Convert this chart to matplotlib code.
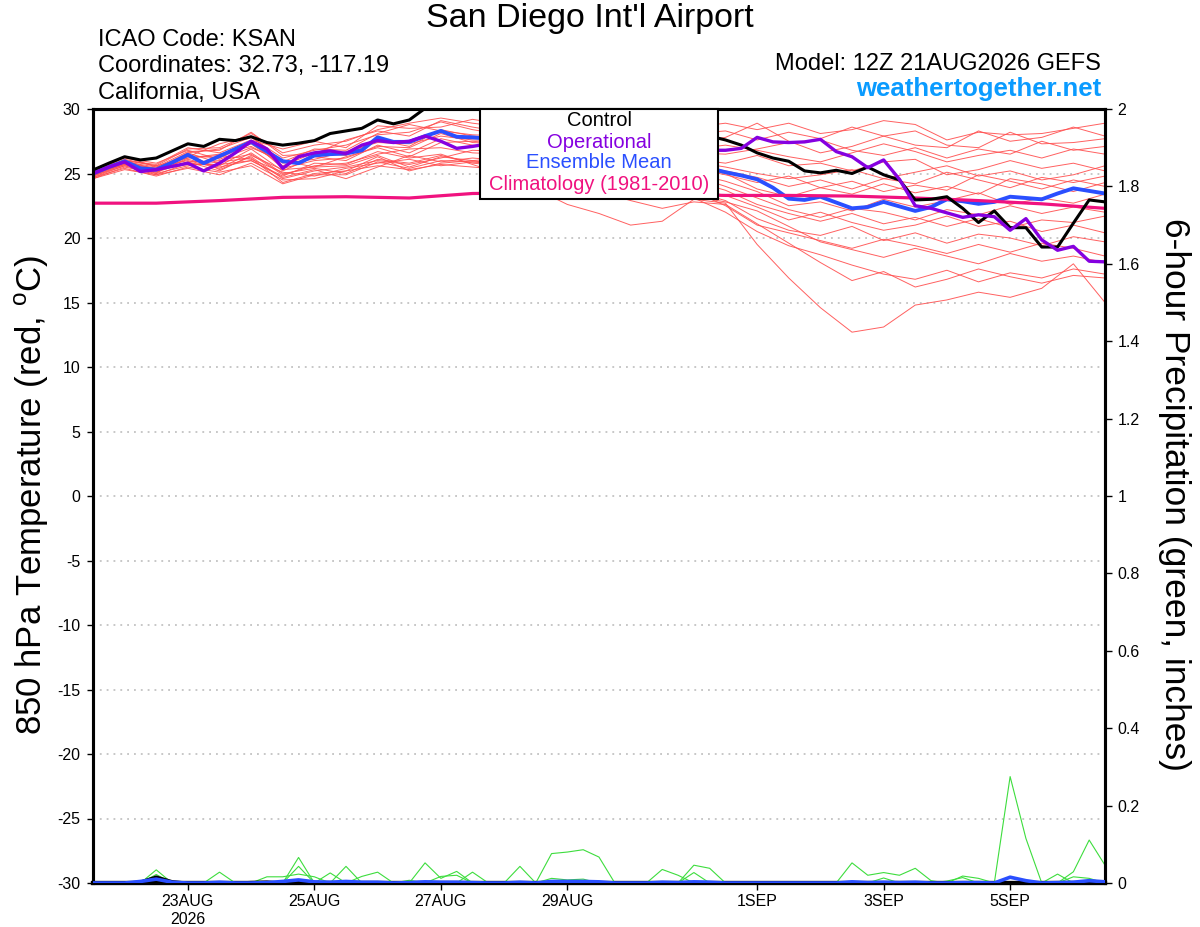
import pandas as pd
import matplotlib
matplotlib.use('Agg')
import matplotlib.pyplot as plt
from matplotlib.patches import Rectangle

plt.rcParams['font.family'] = ['Liberation Sans', 'DejaVu Sans']
plt.rcParams['mathtext.fontset'] = 'custom'
plt.rcParams['mathtext.rm'] = 'Liberation Sans'
plt.rcParams['axes.unicode_minus'] = False

# time axes (run 12Z 21AUG2026)
t6 = pd.date_range('2026-08-21 12:00', periods=65, freq='6h')
t12 = pd.date_range('2026-08-21 12:00', periods=33, freq='12h')
t24 = pd.date_range('2026-08-21 12:00', periods=17, freq='D')

# 850 hPa temperature, 6-hourly
control = [25.27, 25.8, 26.3, 26.05, 26.2, 26.75, 27.3, 27.1,
           27.65, 27.55, 27.85, 27.4, 27.2, 27.35, 27.55, 28.1,
           28.3, 28.5, 29.15, 28.85, 29.15, 30.05, 30.4, 30.7,
           30.5, 30.1, 29.8, 29.6, 29.4, 29.2, 29.0, 28.8,
           28.6, 28.5, 28.4, 28.3, 28.2, 28.1, 28.0, 27.9,
           27.6, 27.2, 26.6, 26.2, 25.95, 25.2, 25.05, 25.25,
           25.0, 25.5, 24.9, 24.5, 22.95, 23.0, 23.2, 22.3,
           21.2, 22.1, 20.8, 20.8, 19.3, 19.3, 21.15, 22.95,
           22.8]
operational = [25.0, 25.5, 25.9, 25.15, 25.3, 25.55, 25.8, 25.2,
               25.8, 26.6, 27.5, 26.9, 25.4, 26.3, 26.6, 26.75,
               26.55, 27.2, 27.55, 27.4, 27.5, 27.9, 27.5, 26.95,
               27.1, 27.3, 27.4, 27.3, 27.2, 27.1, 27.0, 26.9,
               26.9, 26.8, 26.8, 26.8, 26.8, 26.8, 26.8, 26.8,
               26.8, 26.95, 27.8, 27.45, 27.4, 27.45, 27.65, 26.7,
               26.3, 25.45, 26.05, 24.55, 22.5, 22.3, 21.95, 21.6,
               21.8, 21.65, 20.6, 21.5, 19.85, 19.05, 19.35, 18.2,
               18.15]
ens_mean = [25.0, 25.5, 25.95, 25.4, 25.3, 25.85, 26.45, 25.8,
            26.35, 26.9, 27.45, 26.7, 25.95, 25.8, 26.4, 26.5,
            26.55, 26.8, 27.8, 27.45, 27.45, 27.9, 28.3, 27.85,
            27.8, 27.7, 27.6, 27.5, 27.4, 27.2, 27.0, 26.8,
            26.6, 26.4, 26.2, 26.0, 25.8, 25.7, 25.5, 25.4,
            25.1, 24.85, 24.55, 23.9, 23.05, 22.95, 23.2, 22.75,
            22.3, 22.4, 22.8, 22.45, 22.1, 22.4, 23.0, 22.85,
            22.65, 22.8, 23.2, 23.1, 23.0, 23.45, 23.85, 23.65,
            23.45]

# climatology, daily
climatology = [22.7, 22.7, 22.9, 23.15, 23.2, 23.1, 23.45, 23.5, 23.45,
               23.4, 23.3, 23.3, 23.25, 23.1, 22.9, 22.65, 22.3]

# ensemble members, 12-hourly
members = [
    [25.1, 26.1, 25.6, 26.9, 27.0, 28.1, 26.6, 27.2, 27.5, 28.4, 28.9, 29.3, 28.9, 28.6, 28.3, 28.0, 27.8,
     27.9, 28.2, 28.6, 28.9, 28.4, 28.9, 28.1, 28.4, 29.1, 28.8, 27.6, 28.2, 28.0, 28.1, 28.5, 28.9],
    [24.9, 25.8, 25.4, 26.6, 26.9, 27.8, 26.2, 26.8, 27.2, 28.0, 28.2, 29.0, 28.4, 28.0, 27.8, 27.5, 27.4,
     27.6, 27.9, 28.1, 28.3, 27.6, 28.2, 27.7, 28.6, 27.9, 27.2, 27.0, 28.3, 27.5, 27.8, 28.6, 27.9],
    [25.2, 26.0, 25.7, 27.0, 26.6, 27.6, 26.9, 27.5, 27.0, 28.7, 28.5, 28.6, 29.2, 28.8, 28.1, 27.6, 27.2,
     26.9, 27.0, 27.4, 27.8, 28.9, 27.5, 26.6, 27.1, 27.9, 28.3, 27.2, 27.0, 28.2, 27.3, 27.4, 27.7],
    [24.8, 25.9, 25.2, 26.3, 27.3, 27.9, 25.9, 26.9, 26.8, 28.1, 28.8, 28.3, 28.0, 27.9, 27.5, 27.3, 27.1,
     26.9, 26.7, 26.6, 26.5, 26.9, 27.4, 27.6, 26.8, 26.4, 27.0, 26.2, 26.9, 26.5, 27.5, 26.8, 27.1],
    [25.0, 26.3, 25.5, 26.7, 26.8, 28.2, 26.4, 26.5, 27.6, 28.3, 27.9, 29.1, 28.6, 28.2, 27.6, 27.2, 27.0,
     26.8, 26.6, 26.9, 27.2, 26.8, 26.3, 25.9, 26.6, 27.3, 26.7, 25.9, 26.4, 26.8, 26.2, 26.9, 26.5],
    [25.1, 26.0, 25.3, 26.4, 26.2, 27.3, 25.6, 26.6, 26.4, 27.6, 27.1, 28.4, 27.9, 27.7, 27.4, 27.2, 27.0,
     26.7, 26.4, 26.1, 25.8, 26.4, 25.6, 25.8, 25.2, 25.9, 26.1, 24.9, 25.3, 26.0, 25.4, 25.8, 25.2],
    [24.9, 25.7, 25.1, 26.2, 26.5, 27.1, 25.8, 26.1, 26.7, 27.4, 27.3, 27.9, 27.6, 27.5, 27.3, 27.0, 26.8,
     26.5, 26.2, 25.9, 25.5, 25.0, 24.6, 24.9, 25.3, 24.6, 25.1, 25.6, 24.8, 25.2, 24.5, 24.9, 25.6],
    [25.0, 25.9, 25.0, 26.6, 25.8, 27.5, 25.4, 26.0, 26.2, 27.1, 27.0, 28.1, 27.4, 27.3, 27.2, 27.0, 26.7,
     26.3, 25.9, 25.6, 25.2, 24.7, 24.0, 24.5, 23.8, 24.6, 24.2, 25.1, 24.5, 23.9, 24.7, 24.3, 24.8],
    [24.7, 25.6, 24.9, 25.8, 25.6, 26.9, 25.2, 26.3, 26.0, 27.2, 26.6, 27.7, 27.2, 27.0, 26.9, 26.7, 26.4,
     26.0, 25.7, 25.4, 24.9, 24.3, 24.8, 23.9, 24.4, 23.6, 24.1, 23.7, 24.9, 24.4, 23.8, 24.5, 24.0],
    [25.2, 26.2, 25.8, 26.8, 26.1, 27.0, 26.0, 25.5, 26.3, 27.0, 26.3, 27.4, 27.5, 27.3, 27.1, 26.8, 26.5,
     26.2, 25.9, 25.5, 25.0, 23.8, 23.2, 23.9, 23.4, 24.2, 23.5, 24.0, 23.4, 24.6, 24.2, 23.6, 24.3],
    [24.8, 25.7, 25.2, 25.9, 26.0, 26.5, 24.9, 25.6, 25.8, 26.5, 26.9, 27.0, 26.6, 26.5, 26.4, 26.2, 25.9,
     25.6, 25.4, 25.0, 24.4, 23.6, 22.5, 22.8, 22.1, 23.0, 22.4, 22.9, 23.5, 22.6, 23.1, 22.7, 23.4],
    [25.0, 25.8, 25.4, 26.5, 25.3, 26.3, 24.6, 25.2, 25.5, 26.0, 25.7, 26.2, 26.8, 26.7, 26.5, 26.3, 26.0,
     25.7, 25.3, 24.8, 24.0, 23.1, 22.2, 21.6, 22.3, 22.0, 21.4, 22.2, 21.8, 22.5, 21.9, 22.4, 22.0],
    [24.6, 25.5, 25.0, 25.6, 25.9, 26.2, 24.3, 25.0, 25.2, 26.3, 25.2, 25.8, 26.0, 26.2, 26.3, 26.0, 25.7,
     25.3, 24.9, 24.4, 23.7, 22.6, 21.9, 21.3, 21.9, 21.1, 21.6, 20.9, 21.5, 20.8, 21.4, 21.2, 21.7],
    [24.9, 26.0, 25.6, 26.2, 26.4, 26.1, 25.1, 24.8, 25.4, 25.8, 26.1, 25.6, 25.9, 25.8, 25.6, 25.4, 25.1,
     24.7, 24.2, 23.8, 23.3, 22.4, 21.4, 22.0, 21.2, 20.6, 21.0, 21.7, 20.9, 21.3, 20.5, 21.0, 20.4],
    [24.7, 25.4, 24.8, 25.5, 25.1, 25.6, 24.2, 24.9, 24.9, 25.9, 25.4, 26.0, 25.9, 25.7, 25.5, 25.2, 24.9,
     24.5, 24.0, 23.6, 22.9, 21.5, 20.6, 20.2, 20.9, 19.8, 20.4, 19.6, 20.3, 20.0, 19.4, 20.1, 19.7],
    [25.1, 25.9, 25.5, 26.0, 25.4, 26.6, 25.0, 25.4, 25.0, 26.1, 25.8, 26.4, 25.8, 25.6, 25.4, 25.1, 24.8,
     24.4, 24.1, 23.6, 22.5, 21.0, 20.4, 19.8, 19.2, 19.9, 19.4, 18.8, 19.5, 18.9, 19.6, 19.2, 18.6],
    [24.8, 25.6, 25.3, 25.7, 25.7, 26.0, 24.7, 25.3, 24.6, 25.5, 26.4, 25.9, 26.2, 26.0, 25.7, 25.3, 24.7,
     24.0, 23.5, 23.2, 22.8, 22.1, 20.9, 19.7, 19.1, 18.5, 19.2, 18.6, 18.0, 18.8, 18.2, 18.6, 18.1],
    [24.6, 25.3, 24.9, 25.4, 24.9, 25.8, 24.5, 24.6, 25.2, 25.6, 25.3, 25.7, 25.5, 25.3, 25.0, 24.6, 24.2,
     23.8, 23.5, 23.1, 22.0, 20.5, 19.4, 18.7, 17.9, 17.2, 16.8, 17.5, 16.6, 17.3, 16.9, 17.6, 17.2],
    [25.0, 25.7, 25.1, 25.9, 25.2, 26.4, 25.3, 25.5, 25.6, 26.4, 25.5, 26.3, 26.0, 25.6, 25.0, 24.3, 23.6,
     22.9, 22.3, 22.8, 22.6, 21.1, 19.6, 18.1, 16.7, 17.4, 16.2, 16.8, 17.6, 17.0, 16.5, 17.1, 16.9],
    [25.0, 25.8, 25.2, 26.1, 25.5, 26.0, 24.8, 25.8, 25.7, 26.7, 26.2, 26.5, 25.7, 24.9, 23.8, 22.6, 21.9,
     21.0, 21.3, 23.0, 22.7, 19.5, 16.9, 14.6, 12.7, 13.1, 14.8, 15.2, 15.8, 15.4, 16.1, 18.0, 15.0],
]

# 6-hour precipitation (inches), 6-hourly
precip_members = [
    [0, 0, 0, 0, 0.034, 0, 0, 0,
     0, 0, 0, 0, 0, 0.043, 0, 0,
     0.043, 0, 0, 0, 0, 0, 0, 0,
     0, 0, 0, 0, 0, 0.076, 0.08, 0.086,
     0.067, 0, 0, 0, 0, 0, 0, 0,
     0, 0, 0, 0, 0, 0, 0, 0,
     0, 0, 0, 0, 0, 0, 0, 0,
     0, 0, 0.275, 0.115, 0, 0, 0.029, 0.111,
     0.046],
    [0, 0, 0, 0, 0.022, 0, 0, 0,
     0.028, 0, 0, 0, 0, 0.066, 0, 0.026,
     0, 0.017, 0.028, 0, 0, 0.052, 0.012, 0.030,
     0, 0, 0, 0, 0, 0, 0, 0,
     0, 0, 0, 0, 0.035, 0.02, 0, 0,
     0, 0, 0, 0, 0, 0, 0, 0,
     0.052, 0.02, 0.027, 0.02, 0.038, 0.006, 0, 0,
     0, 0, 0, 0, 0, 0, 0, 0,
     0],
    [0, 0, 0, 0, 0, 0, 0, 0,
     0, 0, 0, 0.016, 0.016, 0.023, 0.016, 0,
     0, 0, 0, 0, 0.007, 0, 0, 0,
     0.028, 0, 0, 0.043, 0, 0, 0, 0,
     0, 0, 0, 0, 0, 0, 0.046, 0.038,
     0, 0, 0, 0, 0, 0, 0, 0,
     0, 0, 0, 0, 0, 0, 0, 0.018,
     0.012, 0, 0, 0, 0, 0.023, 0, 0,
     0],
    [0, 0, 0, 0.005, 0.01, 0, 0, 0,
     0, 0, 0, 0, 0, 0, 0, 0,
     0, 0, 0, 0, 0, 0, 0.017, 0.02,
     0, 0, 0, 0, 0, 0.012, 0.008, 0.01,
     0, 0, 0, 0, 0, 0, 0.027, 0,
     0, 0, 0, 0, 0, 0, 0, 0,
     0, 0, 0.013, 0, 0, 0, 0.005, 0.014,
     0, 0, 0, 0, 0, 0, 0.016, 0.012,
     0],
]
precip_mean = [0, 0, 0, 0.004, 0.01, 0.002, 0, 0,
               0.002, 0, 0, 0.001, 0.004, 0.008, 0.003, 0.002,
               0.004, 0.002, 0.002, 0, 0.001, 0.003, 0.002, 0.002,
               0.001, 0, 0, 0.002, 0, 0.004, 0.004, 0.004,
               0.003, 0, 0, 0, 0.002, 0.001, 0.003, 0.002,
               0, 0, 0, 0, 0, 0, 0, 0,
               0.003, 0.001, 0.002, 0.001, 0.002, 0, 0, 0.001,
               0.001, 0, 0.015, 0.006, 0, 0.001, 0.002, 0.006,
               0.003]
precip_control = [0, 0, 0, 0.003, 0.016, 0.004, 0, 0,
                  0, 0, 0.002, 0.003, 0, 0, 0, 0,
                  0, 0, 0, 0, 0, 0, 0, 0,
                  0, 0, 0, 0, 0, 0, 0, 0,
                  0, 0, 0, 0, 0, 0, 0, 0,
                  0, 0, 0, 0, 0, 0, 0, 0,
                  0, 0, 0, 0, 0, 0, 0, 0,
                  0, 0, 0, 0, 0, 0, 0, 0,
                  0]

tick_dates = ['2026-08-23', '2026-08-25', '2026-08-27', '2026-08-29',
              '2026-09-01', '2026-09-03', '2026-09-05']
tick_labels = ['23AUG\n2026', '25AUG', '27AUG', '29AUG', '1SEP', '3SEP', '5SEP']

W, H = 1200, 927
fig = plt.figure(figsize=(W / 100, H / 100), dpi=100)
ax = fig.add_axes([93 / W, 1 - 883 / H, (1105 - 93) / W, (883 - 109) / H])
ax2 = ax.twinx()

# temperature
for m in members:
    ax.plot(t12, m, color='#ff4f4f', lw=0.7, alpha=0.9, zorder=2)
ax.plot(t6, ens_mean, color='#2a4fff', lw=2.8, zorder=4)
ax.plot(t24, climatology, color='#f0127f', lw=2.3, zorder=5)
ax.plot(t6, control, color='black', lw=2.2, zorder=6)
ax.plot(t6, operational, color='#8500e0', lw=2.4, zorder=7)

# precipitation
for p in precip_members:
    ax2.plot(t6, p, color='#3ddd3d', lw=0.8, zorder=2)
ax2.plot(t6, precip_control, color='black', lw=2.0, zorder=3)
ax2.plot(t6, precip_mean, color='#2a4fff', lw=2.6, zorder=4)

ax.set_xlim(pd.Timestamp('2026-08-21 12:00'), pd.Timestamp('2026-09-06 12:00'))
ax.set_ylim(-30, 30)
ax2.set_ylim(0, 2)

ax.set_yticks(range(-30, 31, 5))
ax.yaxis.grid(True, color='#bdbdbd', lw=1.2, linestyle=(0, (1.1, 3.0)))
ax.set_axisbelow(True)
ax.set_xticks(pd.to_datetime(tick_dates))
ax.set_xticklabels(tick_labels)

ax2.set_yticks([i / 5 for i in range(11)])
ax2.set_yticklabels(['0', '0.2', '0.4', '0.6', '0.8', '1', '1.2', '1.4', '1.6', '1.8', '2'])

ax.tick_params(axis='y', length=4, width=1, labelsize=11.5, pad=5)
ax.tick_params(axis='x', length=5, width=1, labelsize=11.5, pad=3)
ax2.tick_params(axis='y', length=5, width=1, labelsize=11.5, pad=4)

for a in (ax, ax2):
    for side in ('left', 'right', 'top'):
        a.spines[side].set_linewidth(2.2)
    a.spines['bottom'].set_linewidth(3)

# header texts
fig.text(590 / W, 1 - 18 / H, "San Diego Int'l Airport", ha='center', va='center', fontsize=24.5)
fig.text(98 / W, 1 - 40 / H, 'ICAO Code: KSAN', ha='left', va='center', fontsize=17)
fig.text(98 / W, 1 - 66 / H, 'Coordinates: 32.73, -117.19', ha='left', va='center', fontsize=17)
fig.text(98 / W, 1 - 93 / H, 'California, USA', ha='left', va='center', fontsize=17)
fig.text(1101 / W, 1 - 64 / H, 'Model: 12Z 21AUG2026 GEFS', ha='right', va='center', fontsize=17)
fig.text(1101 / W, 1 - 89 / H, 'weathertogether.net', ha='right', va='center',
         fontsize=18.5, fontweight='bold', color='#0a9bff')

# axis titles
fig.text(32 / W, 1 - 495 / H, r'850 hPa Temperature (red, $^{\mathrm{o}}$C)', rotation=90,
         ha='center', va='center', fontsize=25)
fig.text(1175 / W, 1 - 495 / H, '6-hour Precipitation (green, inches)', rotation=270,
         ha='center', va='center', fontsize=25.5)

# legend box
fig.add_artist(Rectangle((480 / W, 1 - 199 / H), 238 / W, 90 / H, transform=fig.transFigure,
                         facecolor='white', edgecolor='black', lw=1.5, zorder=10))
legend_items = [('Control', 'black', 121), ('Operational', '#8500e0', 142),
                ('Ensemble Mean', '#2a4fff', 163), ('Climatology (1981-2010)', '#f0127f', 185)]
for label, col, ypix in legend_items:
    fig.text(599 / W, 1 - ypix / H, label, color=col, ha='center', va='center',
             fontsize=14.5, zorder=11)

fig.savefig('out.png', dpi=100)
